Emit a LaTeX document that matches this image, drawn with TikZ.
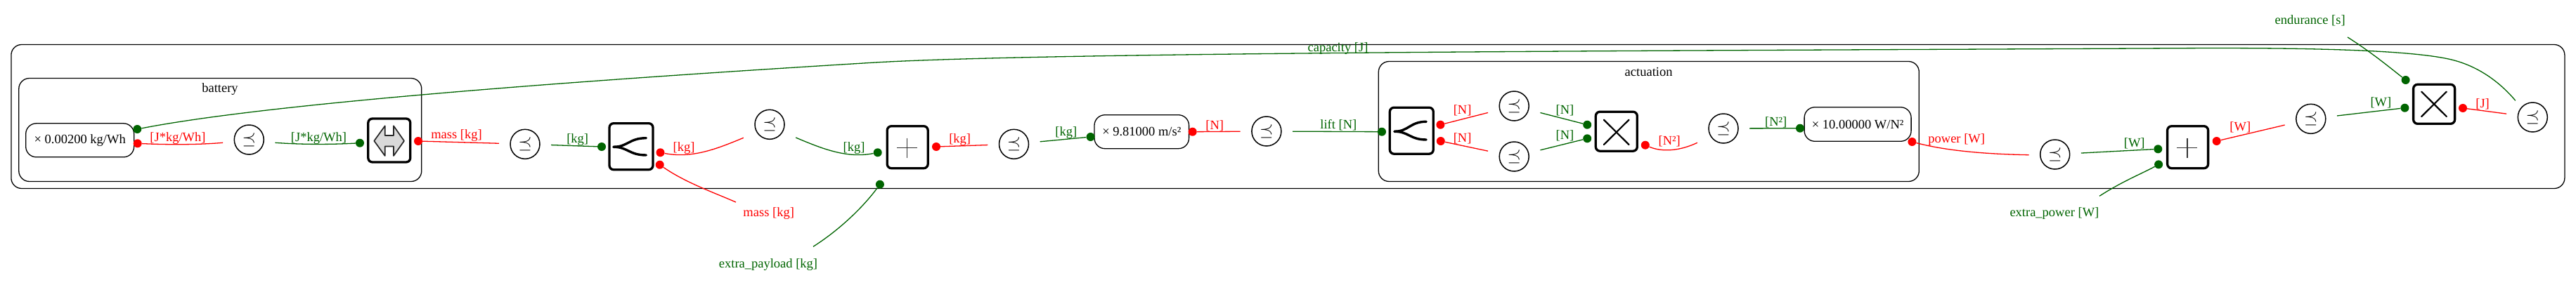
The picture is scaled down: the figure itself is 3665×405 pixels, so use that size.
\documentclass[tikz,border=0pt]{standalone}
\usepackage{fontspec}
\setmainfont{Liberation Serif}
\definecolor{resgreen}{RGB}{0,100,0}
\tikzset{
    px/.style={x=1pt, y=-1pt},
    group/.style={draw, line width=1.3pt, rounded corners=15pt},
    constbox/.style={draw, line width=1.3pt, rounded corners=15pt, inner sep=0pt, font=\fsize},
    opbox/.style={draw, line width=3.3pt, rounded corners=6pt, inner sep=0pt},
    conv/.style={inner sep=0pt, minimum width=74pt, minimum height=46pt, font=\gsize,
        path picture={\draw[line width=1.5pt] (path picture bounding box.center) circle (21pt);}},
    fdot/.style={circle, fill=resgreen, inner sep=0pt, minimum size=12pt},
    rdot/.style={circle, fill=red, inner sep=0pt, minimum size=12pt},
    flab/.style={text=resgreen, inner sep=0pt, font=\fsize},
    rlab/.style={text=red, inner sep=0pt, font=\fsize},
    blab/.style={inner sep=0pt, font=\fsize},
    fline/.style={draw=resgreen, line width=1.3pt},
    rline/.style={draw=red, line width=1.3pt},
    icon/.style={line width=3.4pt, line cap=round},
    thinicon/.style={line width=1.5pt, draw=black!80},
}
\newcommand{\fsize}{\fontsize{18.5}{22}\selectfont}
\newcommand{\gsize}{\fontsize{27}{30}\selectfont}
\begin{document}
\begin{tikzpicture}[px]
    \useasboundingbox (0,0) rectangle (3665,405);

    % groups
    \node[group, minimum width=3633pt, minimum height=205pt] (main) at (1832.4,166) {};
    \node[group, minimum width=573pt, minimum height=147pt] (battery) at (313.3,185) {};
    \node[group, minimum width=769pt, minimum height=171pt] (actuation) at (2345.8,173) {};
    \node[blab] (batterylab) at (313,126.7) {battery};
    \node[blab] (actuationlab) at (2345.6,102.7) {actuation};

    % constants
    \node[constbox, minimum width=154pt, minimum height=48pt] (k1) at (113.7,199.8) {× 0.00200 kg/Wh};
    \node[constbox, minimum width=134.6pt, minimum height=48pt] (k2) at (1624.3,187.7) {× 9.81000 m/s²};
    \node[constbox, minimum width=152pt, minimum height=48.6pt] (k3) at (2643.1,177) {× 10.00000 W/N²};

    % operators
    \node[opbox, minimum width=60pt, minimum height=62pt] (swap) at (553.8,200) {};
    \node[opbox, minimum width=62pt, minimum height=66pt] (split1) at (898,208.7) {};
    \node[opbox, minimum width=58pt, minimum height=60pt] (plus1) at (1291.2,209.7) {};
    \node[opbox, minimum width=62pt, minimum height=66pt] (split2) at (2008.3,186.2) {};
    \node[opbox, minimum width=59pt, minimum height=56pt] (prod1) at (2299.8,187.2) {};
    \node[opbox, minimum width=58pt, minimum height=60pt] (plus2) at (3112.6,209.7) {};
    \node[opbox, minimum width=59pt, minimum height=56pt] (prod2) at (3463.1,148.3) {};

    % icons
    \draw[line width=1.7pt, draw=black!85, fill=black!15, line join=round]
        (532.3,200.7) -- (547.7,179.3) -- (547.7,193) -- (560,193) -- (560,179.3) -- (575,200.7)
        -- (560,222) -- (560,208.5) -- (547.7,208.5) -- (547.7,222) -- cycle;
    \draw[icon] (873,209.3) .. controls (893,209.3) and (895,196.7) .. (919.3,196.7);
    \draw[icon] (873,209.3) .. controls (893,209.3) and (895,221) .. (919.3,221);
    \draw[icon] (1984,187.3) .. controls (2004,187.3) and (2006,173.3) .. (2029.2,173.3);
    \draw[icon] (1984,187.3) .. controls (2004,187.3) and (2006,199) .. (2029.2,199);
    \draw[thinicon] (1276,210.7) -- (1305,210.7) (1290.6,196.7) -- (1290.6,225);
    \draw[thinicon] (3097.2,210.7) -- (3126.2,210.7) (3111.8,196.7) -- (3111.8,225);
    \draw[line width=2.2pt, line cap=round] (2281.9,170.7) -- (2317.5,206) (2317.5,170.7) -- (2281.9,206);
    \draw[line width=2.2pt, line cap=round] (3445.2,130.6) -- (3480.8,166) (3480.8,130.6) -- (3445.2,166);

    % conversions
    \node[conv] (c1) at (354.3,199) {$\preceq$};
    \node[conv] (c2) at (747,205.3) {$\preceq$};
    \node[conv] (c3) at (1095,177.3) {$\preceq$};
    \node[conv] (c4) at (1442.5,205.3) {$\preceq$};
    \node[conv] (c5) at (1801.9,187) {$\preceq$};
    \node[conv] (c6) at (2154.2,151) {$\preceq$};
    \node[conv] (c7) at (2154.2,223) {$\preceq$};
    \node[conv] (c8) at (2452,183) {$\preceq$};
    \node[conv] (c9) at (2923.7,220) {$\preceq$};
    \node[conv] (c10) at (3287.8,169.3) {$\preceq$};
    \node[conv] (c11) at (3603.3,167) {$\preceq$};

    % ports
    \node[fdot] (capout) at (195.3,184) {};
    \node[rdot] (k1r) at (195.7,204.3) {};
    \node[fdot] (swapf) at (512,203.7) {};
    \node[rdot] (swapr) at (595,201) {};
    \node[fdot] (split1f) at (856,209) {};
    \node[rdot] (split1a) at (939.5,217.3) {};
    \node[rdot] (split1b) at (938.7,234.7) {};
    \node[fdot] (plus1a) at (1248.7,217.3) {};
    \node[fdot] (plus1b) at (1251.9,262.7) {};
    \node[rdot] (plus1r) at (1332,209) {};
    \node[fdot] (k2f) at (1551.6,195) {};
    \node[rdot] (k2r) at (1696.7,187.7) {};
    \node[fdot] (split2f) at (1966,187.7) {};
    \node[rdot] (split2a) at (2049.4,177.7) {};
    \node[rdot] (split2b) at (2049.8,201) {};
    \node[fdot] (prod1a) at (2258.2,177.7) {};
    \node[fdot] (prod1b) at (2258.2,197.3) {};
    \node[rdot] (prod1r) at (2340.8,206.7) {};
    \node[fdot] (k3f) at (2561,182.7) {};
    \node[rdot] (k3r) at (2720.4,202) {};
    \node[fdot] (plus2a) at (3070.3,212.3) {};
    \node[fdot] (plus2b) at (3071.1,234.3) {};
    \node[rdot] (plus2r) at (3153.7,201) {};
    \node[fdot] (prod2a) at (3421.4,153.7) {};
    \node[fdot] (prod2b) at (3422.6,114) {};
    \node[rdot] (prod2r) at (3504,154) {};

    % outer names
    \node[rlab] (mass) at (1093.7,304.3) {mass [kg]};
    \node[flab] (payload) at (1093,376.7) {extra\_payload [kg]};
    \node[flab] (extrapower) at (2922.9,304.3) {extra\_power [W]};
    \node[flab] (endurance) at (3286.6,29.3) {endurance [s]};
    \coordinate (massend) at (1047,288);
    \coordinate (payloadend) at (1157,351.3);
    \coordinate (extraend) at (2987,279.3);
    \coordinate (enduranceend) at (3340,53);
    \coordinate (capend) at (3578.8,143.3);

    % connectors
    \draw[rline] (k1r) .. controls (245,206.5) and (285,206) .. (c1.west |- 0,203.3);
    \draw[fline] (c1.east |- 0,203.3) .. controls (430,206) and (470,206) .. (swapf);
    \draw[rline] (swapr) -- (c2);
    \draw[fline] (c2) -- (split1f);
    \draw[rline] (split1a) .. controls (985,226) and (1020,212) .. (c3.west |- 0,196.3);
    \draw[fline] (c3.east |- 0,196) .. controls (1170,212) and (1205,226) .. (plus1a);
    \draw[rline] (split1b) .. controls (975,260) and (1015,274) .. (massend);
    \draw[fline] (payloadend) .. controls (1195,327) and (1228,295) .. (plus1b);
    \draw[rline] (plus1r) -- (c4);
    \draw[fline] (c4) -- (k2f);
    \draw[rline] (k2r) -- (c5);
    \draw[fline] (c5) -- (split2f);
    \draw[rline] (split2a) -- (c6);
    \draw[rline] (split2b) -- (c7);
    \draw[fline] (c6) -- (prod1a);
    \draw[fline] (c7) -- (prod1b);
    \draw[rline] (prod1r) .. controls (2365,217) and (2390,215) .. (c8.west |- 0,203.3);
    \draw[fline] (c8) -- (k3f);
    \draw[rline] (k3r) .. controls (2770,215) and (2825,219.5) .. (c9.west |- 0,220.7);
    \draw[fline] (c9) -- (plus2a);
    \draw[fline] (extraend) .. controls (3020,258) and (3048,247) .. (plus2b);
    \draw[rline] (plus2r) -- (c10);
    \draw[fline] (c10) -- (prod2a);
    \draw[fline] (enduranceend) .. controls (3370,72) and (3395,92) .. (prod2b);
    \draw[rline] (prod2r) -- (c11);
    \draw[fline] (capout) .. controls (400,144) and (900,110) .. (1240,89.3)
        .. controls (1500,73.5) and (2500,72) .. (3100,68.7)
        .. controls (3300,67.6) and (3440,72) .. (3491.8,86)
        .. controls (3525,95) and (3555,115) .. (capend);

    % connector labels
    \node[rlab] (l1) at (253,196.7) {[J*kg/Wh]};
    \node[flab] (l2) at (453.5,196.7) {[J*kg/Wh]};
    \node[rlab] (l3) at (649.5,193.3) {mass [kg]};
    \node[flab] (l4) at (821.7,199) {[kg]};
    \node[rlab] (l5) at (973,210.7) {[kg]};
    \node[flab] (l6) at (1215,210.7) {[kg]};
    \node[rlab] (l7) at (1365.7,199) {[kg]};
    \node[flab] (l8) at (1516.8,189) {[kg]};
    \node[rlab] (l9) at (1728.3,179) {[N]};
    \node[flab] (l10) at (1904.3,178.3) {lift [N]};
    \node[flab] (l11) at (1903.5,69) {capacity [J]};
    \node[rlab] (l12) at (2080.6,157.3) {[N]};
    \node[rlab] (l13) at (2080.6,197.3) {[N]};
    \node[flab] (l14) at (2226.5,157.3) {[N]};
    \node[flab] (l15) at (2226.5,193.3) {[N]};
    \node[rlab] (l16) at (2375.2,201.7) {[N²]};
    \node[flab] (l17) at (2526.7,174.3) {[N²]};
    \node[rlab] (l18) at (2783.7,198.7) {power [W]};
    \node[flab] (l19) at (3036.7,204.3) {[W]};
    \node[rlab] (l20) at (3187.3,181.7) {[W]};
    \node[flab] (l21) at (3387.4,146.7) {[W]};
    \node[rlab] (l22) at (3532.1,148.3) {[J]};
\end{tikzpicture}
\end{document}
